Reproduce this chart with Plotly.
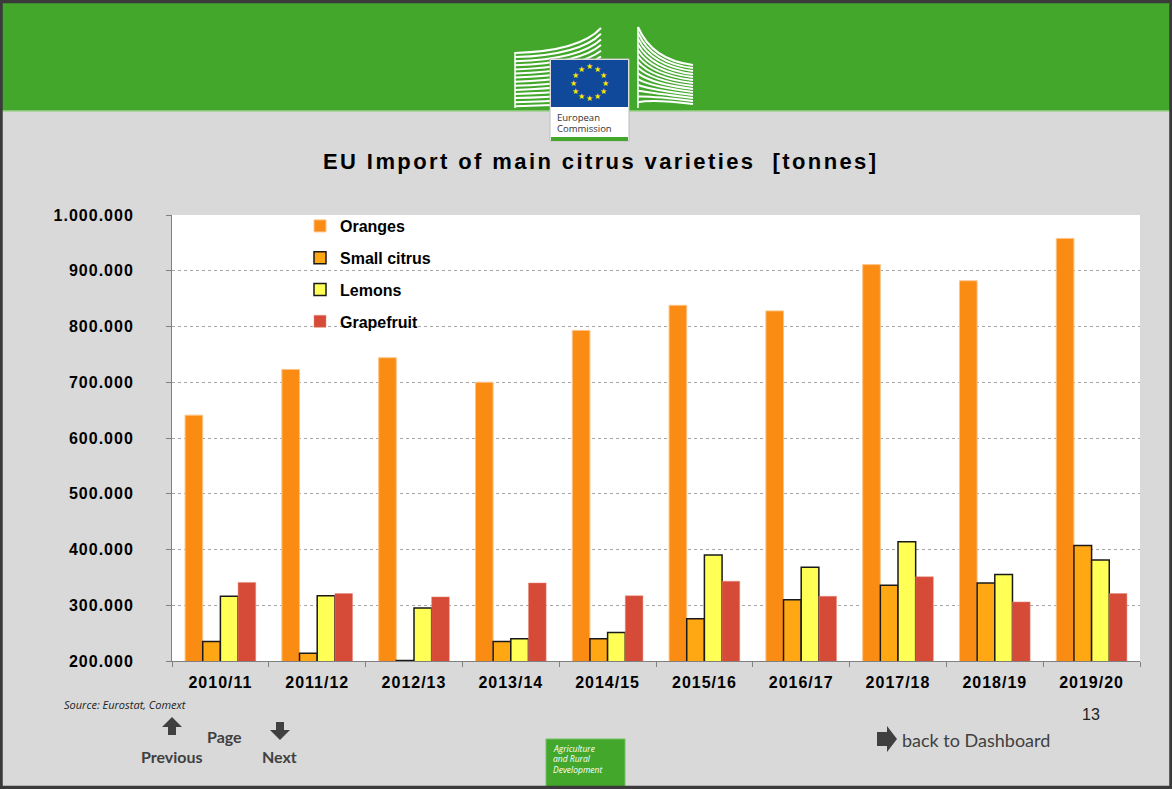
import math
import plotly.graph_objects as go

# ---------------- data ----------------
categories = ["2010/11", "2011/12", "2012/13", "2013/14", "2014/15",
              "2015/16", "2016/17", "2017/18", "2018/19", "2019/20"]
oranges = [641000, 723000, 744000, 700000, 793000, 838000, 828000, 911000, 882000, 958000]
small_citrus = [235000, 214000, 201000, 235000, 240000, 276000, 310000, 336000, 340000, 407000]
lemons = [316000, 317000, 295000, 240000, 251000, 390000, 368000, 414000, 355000, 381000]
grapefruit = [341000, 321000, 315000, 340000, 317000, 343000, 316000, 351000, 306000, 321000]
series_names = ["Oranges", "Small citrus", "Lemons", "Grapefruit"]
y_ticks = [200000, 300000, 400000, 500000, 600000, 700000, 800000, 900000, 1000000]
y_tick_labels = ["200.000", "300.000", "400.000", "500.000", "600.000",
                 "700.000", "800.000", "900.000", "1.000.000"]
title_text = "EU Import of main citrus varieties  [tonnes]"

# ---------------- layout geometry (pixels) ----------------
W, H = 1172, 789
L, R, T, B = 172, 1140, 215, 661
PW, PH = R - L, B - T


def px(x):
    return (x - L) / PW


def py(y):
    return (B - y) / PH


FONT = "Liberation Sans, Arial, sans-serif"
GREEN = "#43a72c"
GREY_BG = "#d9d9d9"
DARK = "#404040"

fig = go.Figure()
styles = [
    dict(color="#fa8c14", line=dict(color="#fcc48a", width=1)),
    dict(color="#ffa814", line=dict(color="#1a1a1a", width=1.5)),
    dict(color="#ffff55", line=dict(color="#1a1a1a", width=1.5)),
    dict(color="#d64b37", line=dict(color="#e88a7a", width=0.5)),
]
for name, vals, st in zip(series_names, [oranges, small_citrus, lemons, grapefruit], styles):
    fig.add_trace(go.Bar(x=categories, y=vals, name=name, marker=st,
                         legendgroup=name))

shapes = []
annotations = []

# page header band
shapes.append(dict(type="rect", xref="paper", yref="paper", x0=px(0), x1=px(W),
                   y0=py(111), y1=py(0), fillcolor=GREEN, line=dict(width=0), layer="below"))
shapes.append(dict(type="line", xref="paper", yref="paper", x0=px(0), x1=px(W),
                   y0=py(111), y1=py(111), line=dict(color="#9fd08f", width=1.5)))

# EC logo: building stripes
for i in range(14):
    y0 = 53 + 4.1 * i
    ye = 28 + 5.7 * i
    path = "M {:.5f},{:.5f} Q {:.5f},{:.5f} {:.5f},{:.5f}".format(
        px(515), py(y0), px(580), py(y0 - 2), px(601), py(ye))
    shapes.append(dict(type="path", xref="paper", yref="paper", path=path,
                       line=dict(color="white", width=2.0)))
shapes.append(dict(type="line", xref="paper", yref="paper", x0=px(515), x1=px(515),
                   y0=py(52), y1=py(108), line=dict(color="white", width=1.5)))
for i in range(14):
    ys = 27 + 5.8 * i
    ye = 65 + 3.0 * i
    path = "M {:.5f},{:.5f} Q {:.5f},{:.5f} {:.5f},{:.5f}".format(
        px(638), py(ys), px(652), py(ye - 5), px(693), py(ye))
    shapes.append(dict(type="path", xref="paper", yref="paper", path=path,
                       line=dict(color="white", width=2.0)))
shapes.append(dict(type="line", xref="paper", yref="paper", x0=px(638), x1=px(638),
                   y0=py(27), y1=py(108), line=dict(color="white", width=1.5)))
# flag + white label
shapes.append(dict(type="rect", xref="paper", yref="paper", x0=px(550), x1=px(629),
                   y0=py(141), y1=py(59), fillcolor="white",
                   line=dict(color="#bfbfbf", width=1)))
shapes.append(dict(type="rect", xref="paper", yref="paper", x0=px(551), x1=px(628),
                   y0=py(107), y1=py(60), fillcolor="#10499a", line=dict(width=0)))
shapes.append(dict(type="rect", xref="paper", yref="paper", x0=px(551), x1=px(628),
                   y0=py(141), y1=py(137), fillcolor=GREEN, line=dict(width=0)))
for k in range(12):
    a = 2 * math.pi * k / 12
    sx = 589.5 + 16 * math.sin(a)
    sy = 83 - 16 * math.cos(a)
    annotations.append(dict(xref="paper", yref="paper", x=px(sx), y=py(sy), text="★",
                            showarrow=False, font=dict(family="DejaVu Sans", size=8, color="#ffe600"),
                            xanchor="center", yanchor="middle"))
annotations.append(dict(xref="paper", yref="paper", x=px(555), y=py(117), text="European",
                        showarrow=False, xanchor="left", yanchor="middle",
                        font=dict(family="Open Sans", size=9.5, color="#333333")))
annotations.append(dict(xref="paper", yref="paper", x=px(555), y=py(128), text="Commission",
                        showarrow=False, xanchor="left", yanchor="middle",
                        font=dict(family="Open Sans", size=9.5, color="#333333")))

# title
annotations.append(dict(xref="paper", yref="paper", x=px(600.5), y=py(161),
                        text="<span style='letter-spacing:2.4px'>" + title_text + "</span>",
                        showarrow=False, xanchor="center", yanchor="middle",
                        font=dict(family=FONT, size=22, color="black", weight="bold")))

# footer
annotations.append(dict(xref="paper", yref="paper", x=px(62), y=py(704),
                        text="Source: Eurostat, Comext", showarrow=False,
                        xanchor="left", yanchor="middle",
                        font=dict(family="Open Sans", size=11, color="#222222", style="italic")))
annotations.append(dict(xref="paper", yref="paper", x=px(1091), y=py(714), text="13",
                        showarrow=False, xanchor="center", yanchor="middle",
                        font=dict(family=FONT, size=16, color="#222222")))
for txt, x, y in [("Page", 224.5, 736), ("Previous", 172, 756), ("Next", 279.5, 756)]:
    annotations.append(dict(xref="paper", yref="paper", x=px(x), y=py(y), text=txt,
                            showarrow=False, xanchor="center", yanchor="middle",
                            font=dict(family="Lato", size=16, color=DARK, weight="bold")))
# arrows
ua = [(172, 717), (182, 727), (176, 727), (176, 735), (168, 735), (168, 727), (162, 727)]
da = [(280, 740), (290, 730), (284, 730), (284, 722), (276, 722), (276, 730), (270, 730)]
ra = [(897, 739), (887, 726), (887, 732), (877, 732), (877, 746), (887, 746), (887, 752)]
for poly in (ua, da, ra):
    path = "M " + " L ".join("{:.5f},{:.5f}".format(px(a), py(b)) for a, b in poly) + " Z"
    shapes.append(dict(type="path", xref="paper", yref="paper", path=path,
                       fillcolor=DARK, line=dict(width=0)))
annotations.append(dict(xref="paper", yref="paper", x=px(900), y=py(740),
                        text="back to Dashboard", showarrow=False,
                        xanchor="left", yanchor="middle",
                        font=dict(family="Lato", size=18, color=DARK)))
# agriculture box
shapes.append(dict(type="rect", xref="paper", yref="paper", x0=px(546), x1=px(625),
                   y0=py(787), y1=py(739), fillcolor=GREEN,
                   line=dict(color="#72c260", width=1)))
for txt, y in [("Agriculture", 748), ("and Rural", 758), ("Development", 769)]:
    annotations.append(dict(xref="paper", yref="paper", x=px(551), y=py(y), text=txt,
                            showarrow=False, xanchor="left", yanchor="middle",
                            font=dict(family="Open Sans", size=8.5, color="white",
                                      style="italic")))
# slide frame
shapes.append(dict(type="rect", xref="paper", yref="paper", x0=px(1), x1=px(W - 1),
                   y0=py(H - 1.5), y1=py(1.5), fillcolor="rgba(0,0,0,0)",
                   line=dict(color="#3a3a3a", width=3.5)))

fig.update_layout(
    width=W, height=H,
    margin=dict(l=L, r=W - R, t=T, b=H - B, pad=0),
    paper_bgcolor=GREY_BG, plot_bgcolor="white",
    barmode="group", bargap=0.27, bargroupgap=0,
    separators=",.",
    font=dict(family=FONT, color="black"),
    showlegend=True,
    legend=dict(x=px(300), y=py(209), xanchor="left", yanchor="top",
                bgcolor="rgba(0,0,0,0)", traceorder="grouped", tracegroupgap=8,
                font=dict(family=FONT, size=16, color="black", weight="bold"),
                itemwidth=30),
    shapes=shapes, annotations=annotations,
)
fig.update_xaxes(
    type="category", tickson="boundaries", ticks="outside", ticklen=5,
    tickcolor="#808080", showline=True, linecolor="#808080", linewidth=1,
    tickvals=categories,
    ticktext=["<span style='letter-spacing:1px'>" + c + "</span>" for c in categories],
    tickfont=dict(family=FONT, size=16, color="black", weight="bold"),
    ticklabelstandoff=7,
    showgrid=False,
)
fig.update_yaxes(
    range=[200000, 1000000], tickvals=y_ticks,
    ticktext=["<span style='letter-spacing:1px'>" + t + "</span>" for t in y_tick_labels],
    ticks="outside", ticklen=5, tickcolor="#808080",
    showline=True, linecolor="#808080", linewidth=1,
    showgrid=True, gridcolor="#a6a6a6", griddash="dot", gridwidth=1,
    tickfont=dict(family=FONT, size=16, color="black", weight="bold"),
    ticklabelstandoff=29,
    zeroline=False,
)

fig.write_html("out.html", config={"displayModeBar": False},
               post_script="document.body.style.margin='0px';document.body.style.overflow='hidden';")
